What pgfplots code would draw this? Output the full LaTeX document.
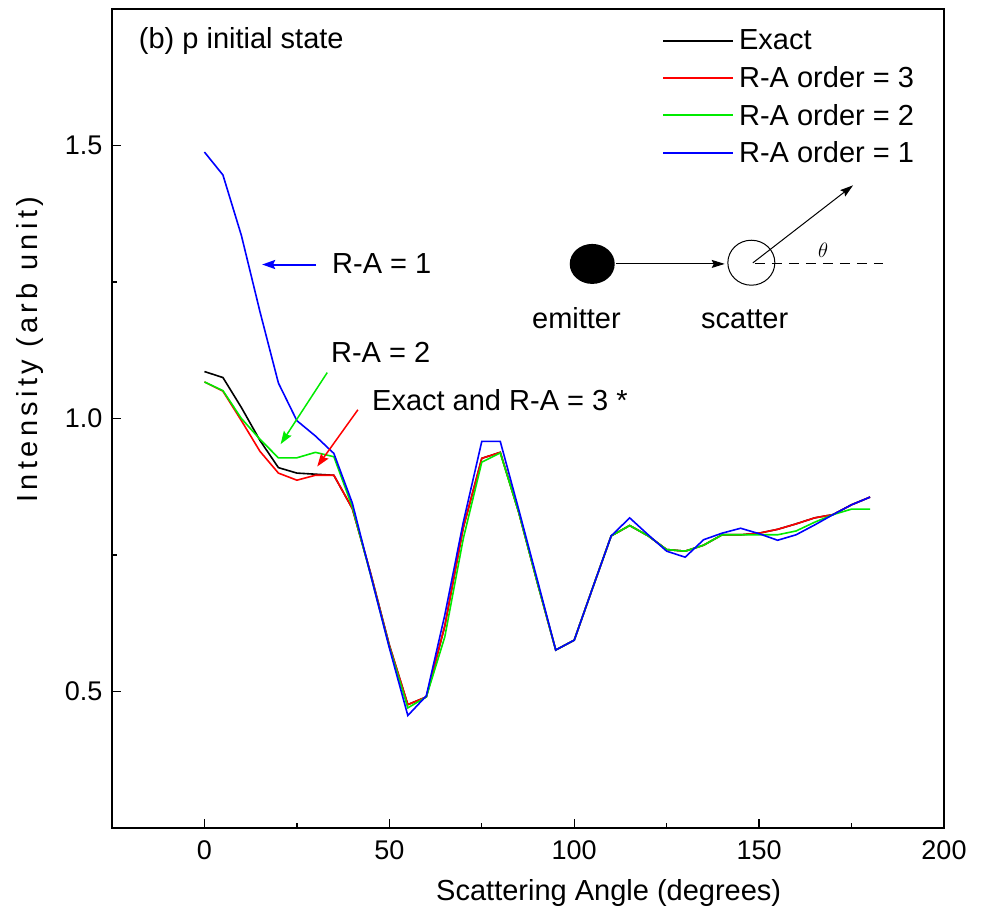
\documentclass[border=0pt]{standalone}
\usepackage{fontspec}
\setmainfont{Liberation Sans}
\newfontfamily\spacedfont[LetterSpace=15]{Liberation Sans}
\usepackage{pgfplots}
\pgfplotsset{compat=1.18}
\usetikzlibrary{arrows.meta}
\definecolor{cred}{RGB}{255,0,0}
\definecolor{cgreen}{RGB}{0,235,0}
\definecolor{cblue}{RGB}{0,0,255}
\begin{document}
\begin{tikzpicture}
\begin{axis}[
  at={(0pt,0pt)}, anchor=south west,
  scale only axis, width=832pt, height=819pt,
  xmin=-25, xmax=200, ymin=0.25, ymax=1.75,
  xtick={0,50,100,150,200}, minor xtick={25,75,125,175},
  ytick={0.5,1,1.5}, minor ytick={0.75,1.25},
  xtick pos=left, ytick pos=left,
  tick align=inside,
  major tick length=9pt, minor tick length=5pt,
  axis line style={line width=1.6pt, black},
  every tick/.style={black, line width=1.3pt},
  /pgf/number format/assume math mode=true,
  tick label style={font=\fontsize{27}{30}\selectfont},
  yticklabel style={xshift=-6pt, /pgf/number format/fixed, /pgf/number format/fixed zerofill, /pgf/number format/precision=1},
  xticklabel style={yshift=-9pt},
  xlabel={Scattering Angle (degrees)},
  ylabel={Intensity (arb unit)},
  label style={font=\fontsize{29}{34}\selectfont},
  xlabel style={at={(axis description cs:0.597,-0.088)}, anchor=base},
  ylabel style={at={(axis description cs:-0.099,0.584)}, anchor=center, font=\spacedfont\fontsize{29}{34}\selectfont},
  legend style={at={(axis description cs:0.661,0.977)}, anchor=north west, draw=none, fill=none, inner sep=0pt,
    font=\fontsize{29}{34}\selectfont, row sep=11pt, column sep=3pt},
  legend cell align=left,
  legend image code/.code={\draw[#1, line width=2pt] (0pt,0pt) -- (70pt,0pt);},
  clip=false,
]
\addplot[color=black, line width=1.6pt] coordinates {
(0,1.086) (5,1.075) (10,1.020) (15,0.960) (20,0.910) (25,0.900) (30,0.898) (35,0.896)
(40,0.835) (45,0.715) (50,0.585) (55,0.476) (60,0.490) (65,0.620) (70,0.800) (75,0.927)
(80,0.938) (85,0.828) (90,0.700) (95,0.576) (100,0.594) (105,0.690) (110,0.785) (115,0.804)
(120,0.785) (125,0.760) (130,0.757) (135,0.768) (140,0.787) (145,0.787) (150,0.790) (155,0.797)
(160,0.807) (165,0.818) (170,0.824) (175,0.842) (180,0.856)};
\addlegendentry{Exact}
\addplot[color=cred, line width=1.6pt] coordinates {
(0,1.067) (5,1.050) (10,0.996) (15,0.940) (20,0.900) (25,0.887) (30,0.896) (35,0.896)
(40,0.835) (45,0.715) (50,0.585) (55,0.476) (60,0.490) (65,0.620) (70,0.800) (75,0.927)
(80,0.938) (85,0.828) (90,0.700) (95,0.576) (100,0.594) (105,0.690) (110,0.785) (115,0.804)
(120,0.785) (125,0.760) (130,0.757) (135,0.768) (140,0.787) (145,0.787) (150,0.790) (155,0.797)
(160,0.807) (165,0.818) (170,0.824) (175,0.842) (180,0.856)};
\addlegendentry{R-A order = 3}
\addplot[color=cgreen, line width=1.6pt] coordinates {
(0,1.067) (5,1.051) (10,1.000) (15,0.962) (20,0.928) (25,0.928) (30,0.938) (35,0.930)
(40,0.838) (45,0.712) (50,0.582) (55,0.470) (60,0.490) (65,0.600) (70,0.780) (75,0.920)
(80,0.937) (85,0.828) (90,0.700) (95,0.576) (100,0.594) (105,0.690) (110,0.785) (115,0.804)
(120,0.785) (125,0.760) (130,0.757) (135,0.768) (140,0.787) (145,0.787) (150,0.787) (155,0.787)
(160,0.794) (165,0.810) (170,0.824) (175,0.834) (180,0.834)};
\addlegendentry{R-A order = 2}
\addplot[color=cblue, line width=1.6pt] coordinates {
(0,1.488) (5,1.446) (10,1.335) (15,1.196) (20,1.065) (25,0.996) (30,0.968) (35,0.936)
(40,0.845) (45,0.712) (50,0.580) (55,0.456) (60,0.492) (65,0.640) (70,0.810) (75,0.958)
(80,0.958) (85,0.833) (90,0.705) (95,0.576) (100,0.594) (105,0.690) (110,0.785) (115,0.818)
(120,0.787) (125,0.757) (130,0.746) (135,0.778) (140,0.790) (145,0.799) (150,0.789) (155,0.777)
(160,0.787) (165,0.805) (170,0.824) (175,0.842) (180,0.856)};
\addlegendentry{R-A order = 1}

% panel title
\node[anchor=base west, font=\fontsize{29}{34}\selectfont] at (axis cs:-18.67,1.677) {(b) p initial state};
% annotations
\draw[cblue, line width=2pt, -{Stealth[length=13pt,width=9pt,inset=2pt]}] (axis cs:30.2,1.282) -- (axis cs:15.6,1.282);
\node[anchor=base west, font=\fontsize{29}{34}\selectfont] at (axis cs:33.6,1.266) {R-A = 1};
\draw[cgreen, line width=1.5pt, -{Stealth[length=13pt,width=9pt,inset=2pt]}] (axis cs:33.2,1.084) -- (axis cs:20.6,0.953);
\node[anchor=base west, font=\fontsize{29}{34}\selectfont] at (axis cs:33.3,1.103) {R-A = 2};
\draw[cred, line width=1.5pt, -{Stealth[length=13pt,width=9pt,inset=2pt]}] (axis cs:41.5,1.016) -- (axis cs:30.5,0.912);
\node[anchor=base west, font=\fontsize{29}{34}\selectfont] at (axis cs:44.4,1.015) {Exact and R-A = 3 *};
% scattering diagram
\fill[black] (axis cs:104.87,1.2831) ellipse [x radius=22.5pt, y radius=20pt];
\draw[line width=1pt, -{Stealth[length=13pt,width=8pt,inset=2pt]}] (axis cs:111.3,1.2831) -- (axis cs:140.7,1.2831);
\draw[line width=1pt] (axis cs:147.9,1.2853) ellipse [x radius=23.5pt, y radius=22.5pt];
\draw[line width=1pt, -{Stealth[length=13pt,width=8pt,inset=2pt]}] (axis cs:148.3,1.285) -- (axis cs:175.4,1.427);
\draw[line width=1pt, dash pattern=on 10pt off 7pt] (axis cs:148.85,1.283) -- (axis cs:183.5,1.283);
\node[font=\fontsize{22}{24}\selectfont] at (axis cs:167.3,1.308) {$\theta$};
\node[anchor=base, font=\fontsize{29}{34}\selectfont] at (axis cs:100.6,1.164) {emitter};
\node[anchor=base, font=\fontsize{29}{34}\selectfont] at (axis cs:146.1,1.164) {scatter};
\end{axis}
\pgfresetboundingbox
\path[use as bounding box] (-112pt,-87pt) rectangle (873pt,828pt);
\end{tikzpicture}
\end{document}
